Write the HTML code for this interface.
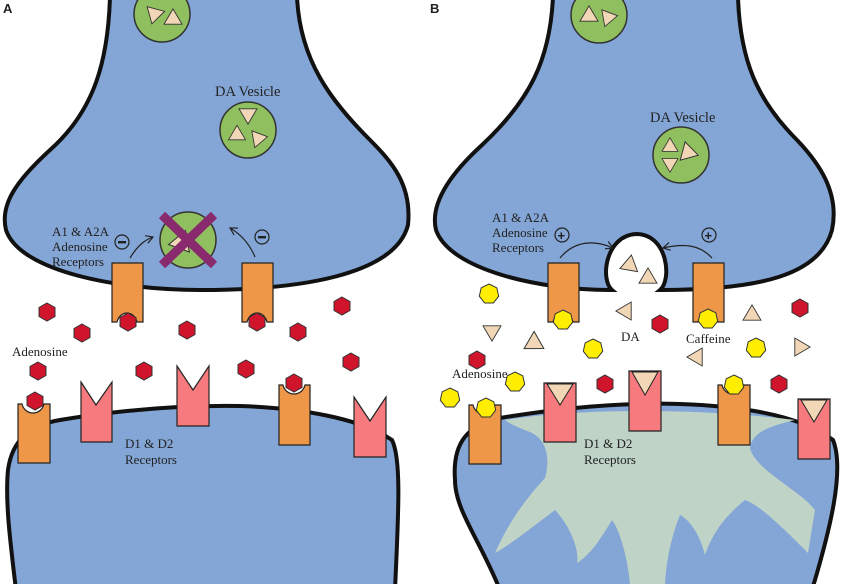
<!DOCTYPE html>
<html><head><meta charset="utf-8"><style>
html,body{margin:0;padding:0;background:#fff}
svg{display:block}
text{font-family:"Liberation Serif",serif;fill:#222}
</style></head><body>
<svg width="850" height="584" viewBox="0 0 850 584" xmlns="http://www.w3.org/2000/svg">
<defs>
<polygon id="hx" points="0,-9 8,-4.5 8,4.5 0,9 -8,4.5 -8,-4.5" fill="#d0142c" stroke="#333" stroke-width="1"/>
<polygon id="hp" points="0,-10 7.8,-6.2 9.7,2.2 4.3,9 -4.3,9 -9.7,2.2 -7.8,-6.2" fill="#ffee00" stroke="#333" stroke-width="1"/>
<polygon id="tr" points="-10,-8 10,-8 0,9" fill="#f1d7b5" stroke="#333" stroke-width="1"/>
<marker id="ar" markerWidth="10" markerHeight="10" refX="8" refY="5" orient="auto" markerUnits="userSpaceOnUse"><path d="M1,1 L8,5 L1,9" fill="none" stroke="#222" stroke-width="1.2"/></marker>
</defs>

<!-- PANEL A -->
<path d="M110,-3 C108,60 95,110 50,150 C15,182 0,205 6,230 C20,272 120,290 200,290 C300,290 395,275 408,225 C412,185 392,162 370,140 C330,100 300,60 297,-3 Z" fill="#84a6d6" stroke="#111" stroke-width="4"/>
<path d="M16,590 C10,540 5,500 8,470 C12,440 30,425 60,420 C120,410 180,405 240,406 C300,408 360,418 392,440 C402,460 398,520 395,590 Z" fill="#84a6d6" stroke="#111" stroke-width="4"/>
<circle cx="162" cy="14" r="28" fill="#8fbf5e" stroke="#333" stroke-width="1.5"/>
<use href="#tr" transform="translate(154,16) rotate(15) scale(0.9)"/><use href="#tr" transform="translate(173,17) rotate(180) scale(0.9)"/>
<circle cx="248" cy="130" r="28" fill="#8fbf5e" stroke="#333" stroke-width="1.5"/>
<use href="#tr" transform="translate(248,116) scale(0.9)"/><use href="#tr" transform="translate(237,133) rotate(180) scale(0.85)"/><use href="#tr" transform="translate(260,138) rotate(-100) scale(0.85)"/>
<text x="215" y="96" font-size="14.5">DA Vesicle</text>
<circle cx="188" cy="240" r="28" fill="#8fbf5e" stroke="#333" stroke-width="1.5"/>
<use href="#tr" transform="translate(182,240) rotate(200) scale(1.1)"/>
<path d="M162,215 L214,265 M214,215 L162,265" stroke="#8a2a6e" stroke-width="9"/>
<text x="52" y="236" font-size="13">A1 &amp; A2A</text>
<text x="52" y="251" font-size="13">Adenosine</text>
<text x="52" y="266" font-size="13">Receptors</text>
<circle cx="122" cy="242" r="7" fill="none" stroke="#222" stroke-width="1.2"/><rect x="118" y="241" width="8" height="2.4" fill="#222"/>
<circle cx="262" cy="237" r="7" fill="none" stroke="#222" stroke-width="1.2"/><rect x="258" y="236" width="8" height="2.4" fill="#222"/>
<path d="M130,258 C138,245 145,240 153,237" fill="none" stroke="#222" stroke-width="1.2" marker-end="url(#ar)"/>
<path d="M255,257 C250,245 242,235 230,228" fill="none" stroke="#222" stroke-width="1.2" marker-end="url(#ar)"/>
<path d="M112,263 L143,263 L143,322 L137,322 C134,310 120,310 117,322 L112,322 Z" fill="#ef9748" stroke="#222" stroke-width="1.2"/>
<path d="M242,263 L273,263 L273,322 L267,322 C264,310 250,310 247,322 L242,322 Z" fill="#ef9748" stroke="#222" stroke-width="1.2"/>
<path d="M18,404 L22,404 C25,416 41,416 44,404 L50,404 L50,463 L18,463 Z" fill="#ef9748" stroke="#222" stroke-width="1.2"/>
<path d="M279,385 L283,385 C286,397 302,397 305,385 L310,385 L310,445 L279,445 Z" fill="#ef9748" stroke="#222" stroke-width="1.2"/>
<path d="M81,382 L96,405 L112,382 L112,442 L81,442 Z" fill="#f77b7e" stroke="#222" stroke-width="1.2"/>
<path d="M177,366 L193,390 L209,366 L209,426 L177,426 Z" fill="#f77b7e" stroke="#222" stroke-width="1.2"/>
<path d="M354,397 L370,421 L386,397 L386,457 L354,457 Z" fill="#f77b7e" stroke="#222" stroke-width="1.2"/>
<use href="#hx" x="47" y="312"/><use href="#hx" x="82" y="333"/><use href="#hx" x="128" y="322"/><use href="#hx" x="187" y="330"/>
<use href="#hx" x="257" y="322"/><use href="#hx" x="298" y="332"/><use href="#hx" x="342" y="306"/><use href="#hx" x="38" y="371"/>
<use href="#hx" x="144" y="371"/><use href="#hx" x="246" y="369"/><use href="#hx" x="351" y="362"/><use href="#hx" x="35" y="401"/><use href="#hx" x="294" y="383"/>
<text x="12" y="356" font-size="13">Adenosine</text>
<text x="125" y="448" font-size="13">D1 &amp; D2</text>
<text x="125" y="464" font-size="13">Receptors</text>
<text x="3" y="13" font-size="13" font-weight="bold" style="font-family:'Liberation Sans',sans-serif">A</text>

<!-- PANEL B -->
<path d="M553,-3 C550,60 530,100 482,145 C448,176 430,205 436,230 C450,270 540,290 610,290 L612,290 C600,280 605,235 637,234 C668,235 672,280 660,290 C760,290 820,275 832,230 C840,192 818,162 797,140 C757,100 740,60 738,-3 Z" fill="#84a6d6" stroke="#111" stroke-width="4"/>
<path d="M500,590 C480,540 455,510 455,480 C452,440 470,425 500,418 C560,408 620,402 680,404 C740,406 800,415 833,440 C845,470 830,530 812,590 Z" fill="#84a6d6" stroke="#111" stroke-width="4"/>
<path d="M505,420 C580,408 700,408 795,420 C770,426 752,432 750,448 C755,470 800,490 815,510 L808,553 C785,530 760,505 745,500 C720,520 710,540 705,555 C700,535 690,520 680,515 C670,540 666,565 665,584 L630,584 C628,560 620,530 612,520 C600,540 590,555 577,563 C580,545 565,520 555,510 C535,525 510,545 495,553 C505,530 520,505 545,478 C550,460 548,440 530,432 C520,428 510,424 505,420 Z" fill="#bfd3c7"/>
<circle cx="599" cy="15" r="28" fill="#8fbf5e" stroke="#333" stroke-width="1.5"/>
<use href="#tr" transform="translate(589,14) rotate(180) scale(0.9)"/><use href="#tr" transform="translate(610,17) rotate(-100) scale(0.85)"/>
<circle cx="681" cy="155" r="28" fill="#8fbf5e" stroke="#333" stroke-width="1.5"/>
<use href="#tr" transform="translate(670,145) rotate(180) scale(0.8)"/><use href="#tr" transform="translate(670,165) scale(0.8)"/><use href="#tr" transform="translate(690,153) rotate(-75) scale(0.95)"/>
<text x="650" y="122" font-size="14.5">DA Vesicle</text>
<use href="#tr" transform="translate(630,263) rotate(190) scale(0.9)"/><use href="#tr" transform="translate(648,276) rotate(180) scale(0.9)"/>
<text x="492" y="222" font-size="13">A1 &amp; A2A</text>
<text x="492" y="237" font-size="13">Adenosine</text>
<text x="492" y="252" font-size="13">Receptors</text>
<circle cx="562" cy="235" r="7" fill="none" stroke="#222" stroke-width="1.2"/><text x="557.5" y="240" font-size="13" style="font-family:'Liberation Sans',sans-serif;font-weight:bold">+</text>
<circle cx="709" cy="235" r="7" fill="none" stroke="#222" stroke-width="1.2"/><text x="704.5" y="240" font-size="13" style="font-family:'Liberation Sans',sans-serif;font-weight:bold">+</text>
<path d="M560,258 C575,240 595,240 613,248" fill="none" stroke="#222" stroke-width="1.2" marker-end="url(#ar)"/>
<path d="M712,258 C700,245 685,243 663,248" fill="none" stroke="#222" stroke-width="1.2" marker-end="url(#ar)"/>
<path d="M548,263 L579,263 L579,322 L573,322 C570,310 556,310 553,322 L548,322 Z" fill="#ef9748" stroke="#222" stroke-width="1.2"/>
<path d="M693,263 L724,263 L724,322 L718,322 C715,310 701,310 698,322 L693,322 Z" fill="#ef9748" stroke="#222" stroke-width="1.2"/>
<path d="M469,405 L473,405 C476,417 492,417 495,405 L501,405 L501,464 L469,464 Z" fill="#ef9748" stroke="#222" stroke-width="1.2"/>
<path d="M718,385 L722,385 C725,397 741,397 744,385 L750,385 L750,445 L718,445 Z" fill="#ef9748" stroke="#222" stroke-width="1.2"/>
<path d="M544,383 L576,383 L576,442 L544,442 Z" fill="#f77b7e" stroke="#222" stroke-width="1.2"/><polygon points="547,384 573,384 560,405" fill="#f1d7b5" stroke="#222"/>
<path d="M629,371 L661,371 L661,431 L629,431 Z" fill="#f77b7e" stroke="#222" stroke-width="1.2"/><polygon points="632,372 658,372 645,395" fill="#f1d7b5" stroke="#222"/>
<path d="M798,399 L830,399 L830,459 L798,459 Z" fill="#f77b7e" stroke="#222" stroke-width="1.2"/><polygon points="801,400 827,400 814,422" fill="#f1d7b5" stroke="#222"/>
<use href="#hp" x="489" y="294"/><use href="#hp" x="563" y="320"/><use href="#hp" x="593" y="349"/><use href="#hp" x="708" y="319"/>
<use href="#hp" x="756" y="348"/><use href="#hp" x="515" y="382"/><use href="#hp" x="450" y="398"/><use href="#hp" x="486" y="408"/><use href="#hp" x="734" y="385"/>
<use href="#hx" x="660" y="324"/><use href="#hx" x="800" y="308"/><use href="#hx" x="477" y="360"/><use href="#hx" x="605" y="384"/><use href="#hx" x="779" y="384"/>
<use href="#tr" transform="translate(492,333) scale(0.9)"/><use href="#tr" transform="translate(536,344) rotate(-60)"/><use href="#tr" transform="translate(624,311) rotate(90) scale(0.9)"/>
<use href="#tr" transform="translate(752,313) rotate(180) scale(0.9)"/><use href="#tr" transform="translate(695,357) rotate(90) scale(0.9)"/><use href="#tr" transform="translate(802,347) rotate(-90) scale(0.9)"/>
<text x="621" y="341" font-size="13">DA</text>
<text x="686" y="343" font-size="13">Caffeine</text>
<text x="452" y="378" font-size="13">Adenosine</text>
<text x="584" y="448" font-size="13">D1 &amp; D2</text>
<text x="584" y="464" font-size="13">Receptors</text>
<text x="430" y="13" font-size="13" font-weight="bold" style="font-family:'Liberation Sans',sans-serif">B</text>
</svg>
</body></html>
